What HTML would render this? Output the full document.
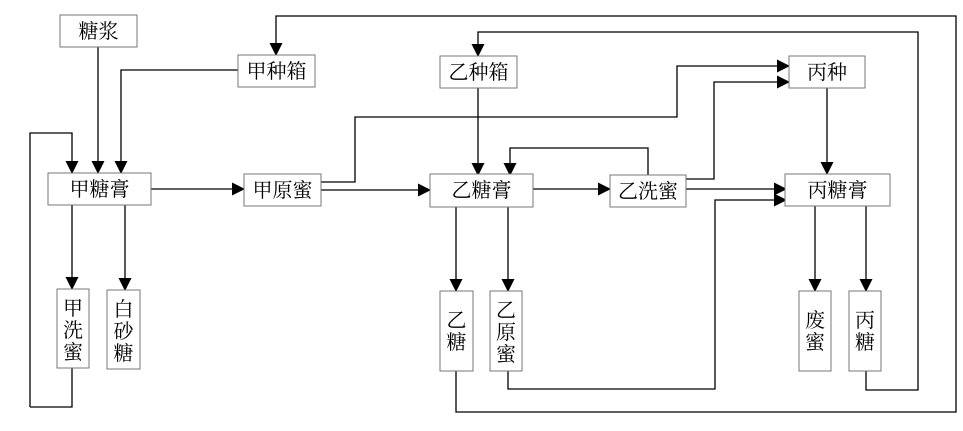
<!DOCTYPE html>
<html><head><meta charset="utf-8"><style>
html,body{margin:0;padding:0;background:#fff}
svg{display:block}
text{font-family:"Liberation Serif","Noto Serif CJK SC","Noto Sans CJK SC",serif;font-size:20px;fill:#000}
rect{fill:#fff;stroke:#777;stroke-width:1}
.l{fill:none;stroke:#000;stroke-width:1.3}
</style></head><body>
<svg width="963" height="431" viewBox="0 0 963 431">
<defs><marker id="a" markerWidth="13" markerHeight="13" refX="12" refY="6.5" orient="auto" markerUnits="userSpaceOnUse"><path d="M0,0 L13,6.5 L0,13 z" fill="#000"/></marker></defs>
<g class="l" marker-end="url(#a)">
<path d="M98,47 V173"/>
<path d="M238,70 H121 V173"/>
<path d="M30,407 V133 H72 V173"/>
<path d="M151,189 H244"/>
<path d="M321,190 H430"/>
<path d="M321,182 H355 V117 H677 V66 H789"/>
<path d="M478,88 V175"/>
<path d="M648,175 V148 H510 V175"/>
<path d="M533,189 H610"/>
<path d="M686,179 H714 V82 H789"/>
<path d="M686,189 H786"/>
<path d="M508,371 V389 H715 V200 H786"/>
<path d="M827,88 V174"/>
<path d="M72,205 V289"/>
<path d="M125,205 V290"/>
<path d="M456,207 V291"/>
<path d="M508,207 V291"/>
<path d="M815,206 V291"/>
<path d="M866,206 V291"/>
<path d="M456,371 V412 H956 V16 H276 V55"/>
<path d="M866,371 V390 H918 V32 H478 V56"/>
</g>
<path class="l" d="M72,368 V407 H30"/>
<rect x="60" y="15" width="77" height="32"/><text x="98.5" y="38" text-anchor="middle">糖浆</text>
<rect x="238" y="55" width="77" height="32"/><text x="276.5" y="78" text-anchor="middle">甲种箱</text>
<rect x="440" y="56" width="77" height="32"/><text x="478.5" y="79" text-anchor="middle">乙种箱</text>
<rect x="789" y="56" width="76" height="32"/><text x="827" y="79" text-anchor="middle">丙种</text>
<rect x="48" y="173" width="103" height="32"/><text x="99.5" y="196" text-anchor="middle">甲糖膏</text>
<rect x="244" y="174" width="77" height="32"/><text x="282.5" y="197" text-anchor="middle">甲原蜜</text>
<rect x="430" y="174" width="103" height="33"/><text x="481.5" y="197" text-anchor="middle">乙糖膏</text>
<rect x="610" y="175" width="76" height="32"/><text x="648" y="198" text-anchor="middle">乙洗蜜</text>
<rect x="785" y="174" width="105" height="32"/><text x="837.5" y="197" text-anchor="middle">丙糖膏</text>
<rect x="57" y="289" width="32" height="79"/>
<text x="73" y="315" text-anchor="middle">甲</text><text x="73" y="337" text-anchor="middle">洗</text><text x="73" y="359" text-anchor="middle">蜜</text>
<rect x="107" y="290" width="33" height="79"/>
<text x="123.5" y="316" text-anchor="middle">白</text><text x="123.5" y="338" text-anchor="middle">砂</text><text x="123.5" y="360" text-anchor="middle">糖</text>
<rect x="440" y="291" width="33" height="80"/>
<text x="456.5" y="327" text-anchor="middle">乙</text><text x="456.5" y="349" text-anchor="middle">糖</text>
<rect x="490" y="291" width="32" height="80"/>
<text x="506" y="317" text-anchor="middle">乙</text><text x="506" y="339" text-anchor="middle">原</text><text x="506" y="361" text-anchor="middle">蜜</text>
<rect x="799" y="291" width="32" height="80"/>
<text x="815" y="327" text-anchor="middle">废</text><text x="815" y="349" text-anchor="middle">蜜</text>
<rect x="849" y="291" width="32" height="80"/>
<text x="865" y="327" text-anchor="middle">丙</text><text x="865" y="349" text-anchor="middle">糖</text>
</svg>
</body></html>
